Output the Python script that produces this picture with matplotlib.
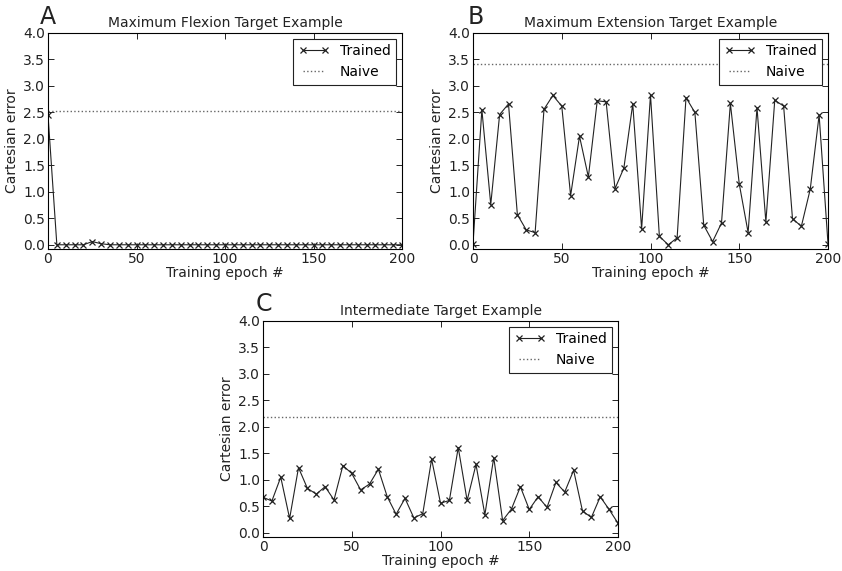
import matplotlib
matplotlib.use("Agg")
import matplotlib.pyplot as plt
import numpy as np

epochs = np.arange(0, 201, 5)

flexion_trained = [2.45, 0.0, 0.0, 0.0, 0.0, 0.06, 0.02, 0.0, 0.0, 0.0,
                   0.0, 0.0, 0.0, 0.0, 0.0, 0.0, 0.0, 0.0, 0.0, 0.0,
                   0.0, 0.0, 0.0, 0.0, 0.0, 0.0, 0.0, 0.0, 0.0, 0.0,
                   0.0, 0.0, 0.0, 0.0, 0.0, 0.0, 0.0, 0.0, 0.0, 0.0, 0.0]
flexion_naive = 2.53

extension_trained = [0.02, 2.55, 0.76, 2.46, 2.66, 0.57, 0.28, 0.23, 2.56, 2.82,
                     2.62, 0.93, 2.05, 1.28, 2.72, 2.70, 1.06, 1.45, 2.66, 0.30,
                     2.83, 0.16, 0.0, 0.13, 2.78, 2.50, 0.37, 0.06, 0.41, 2.67,
                     1.15, 0.23, 2.59, 0.43, 2.73, 2.62, 0.49, 0.35, 1.05, 2.45, 0.02]
extension_naive = 3.41

intermediate_trained = [0.67, 0.60, 1.05, 0.27, 1.23, 0.84, 0.73, 0.87, 0.62, 1.27,
                        1.12, 0.81, 0.92, 1.20, 0.68, 0.35, 0.65, 0.28, 0.36, 1.39,
                        0.56, 0.61, 1.61, 0.61, 1.29, 0.34, 1.42, 0.23, 0.45, 0.87,
                        0.44, 0.68, 0.48, 0.95, 0.77, 1.18, 0.41, 0.29, 0.68, 0.44, 0.18]
intermediate_naive = 2.19

titles = ["Maximum Flexion Target Example",
          "Maximum Extension Target Example",
          "Intermediate Target Example"]
letters = ["A", "B", "C"]

plt.rcParams['font.family'] = 'DejaVu Sans'
plt.rcParams['xtick.direction'] = 'in'
plt.rcParams['ytick.direction'] = 'in'

W, H = 842, 571
fig = plt.figure(figsize=(W / 100, H / 100), dpi=100)

# axes boxes in pixels: left, top, right, bottom
boxes = [(48, 33, 402, 249), (473, 33, 828, 249), (263, 321, 618, 537)]
letter_pos = [(40, 24), (468, 24), (256, 311)]
series = [(flexion_trained, flexion_naive),
          (extension_trained, extension_naive),
          (intermediate_trained, intermediate_naive)]

for i in range(3):
    l, t, r, b = boxes[i]
    ax = fig.add_axes([l / W, 1 - b / H, (r - l) / W, (b - t) / H])
    trained, naive = series[i]
    ax.plot(epochs, trained, color='#222222', lw=0.8, marker='x', ms=5,
            mew=0.9, label='Trained')
    ax.plot([0, 200], [naive, naive], color='#666666', ls=':', lw=1.0,
            label='Naive')
    ax.set_xlim(0, 200)
    ax.set_ylim(-0.08, 4.0)
    ax.set_xticks([0, 50, 100, 150, 200])
    ax.set_yticks(np.arange(0, 4.01, 0.5))
    ax.yaxis.set_major_formatter(matplotlib.ticker.FormatStrFormatter('%.1f'))
    ax.tick_params(top=True, right=True, labelsize=10, length=4, width=0.6, pad=2,
                   labelcolor='#222222')
    for s in ax.spines.values():
        s.set_linewidth(0.8)
    ax.set_title(titles[i], fontsize=10, pad=4, color='#222222')
    ax.set_xlabel("Training epoch #", fontsize=10, labelpad=0, color='#222222')
    ax.set_ylabel("Cartesian error", fontsize=10, labelpad=3, color='#222222')
    leg = ax.legend(loc='upper right', fontsize=10, numpoints=2, fancybox=False,
                    framealpha=1, edgecolor='#222222', borderaxespad=0.4,
                    handlelength=2.2, labelspacing=0.5)
    leg.get_frame().set_linewidth(0.8)
    x0, y0 = letter_pos[i]
    fig.text(x0 / W, 1 - y0 / H, letters[i], fontsize=17, va='baseline', ha='left',
             color='#222222')

fig.savefig("out.png", dpi=100)
